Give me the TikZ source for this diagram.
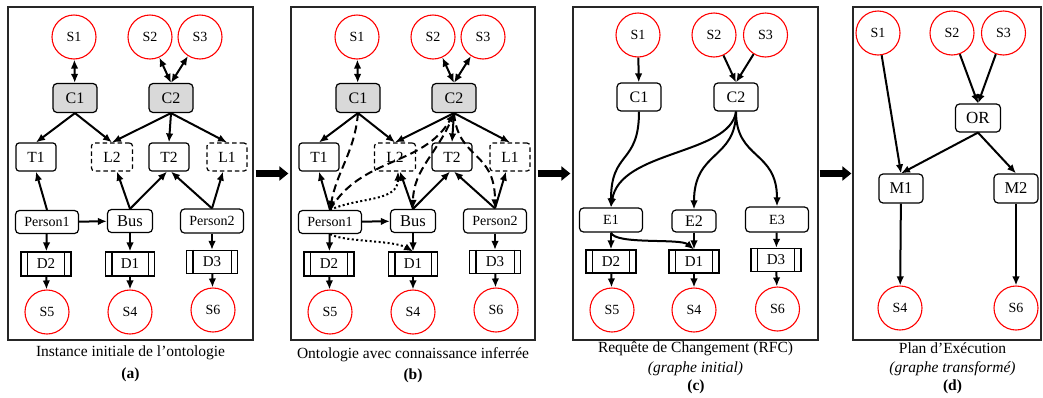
\documentclass[tikz,border=0pt]{standalone}
\usepackage{fontspec}
\setmainfont{Liberation Serif}
\usetikzlibrary{arrows.meta}
\tikzset{
  fs/.style={font=\fontsize{#1}{#1}\selectfont},
  st/.style={circle, draw=red, line width=1.1pt, minimum size=44pt, inner sep=0pt, fs=14},
  bx/.style={draw, rounded corners=4pt, line width=1.2pt, inner sep=0pt},
  cbox/.style={bx, fill=gray!30, minimum width=44pt, minimum height=29pt, fs=16},
  wbox/.style={bx, minimum width=44pt, minimum height=28pt, fs=16},
  tbox/.style={bx, rounded corners=3pt, minimum width=40pt, minimum height=28pt, fs=15.5},
  lbox/.style={tbox, dash pattern=on 4.5pt off 3pt},
  pbox/.style={bx, minimum width=63pt, minimum height=23pt, fs=14},
  busbox/.style={bx, minimum width=45pt, minimum height=23pt, fs=16.5},
  dbox/.style={draw, line width=1.2pt, minimum width=50pt, minimum height=24pt, inner sep=0pt, fs=15},
  ed/.style={line width=2pt, -{Latex[length=9pt,width=7.5pt]}},
  bed/.style={line width=2pt, {Latex[length=9pt,width=7.5pt]}-{Latex[length=9pt,width=7.5pt]}},
  dsh/.style={ed, dash pattern=on 8pt off 4.5pt},
  dotl/.style={ed, dash pattern=on 2pt off 2.5pt},
  frame/.style={draw=black!85, line width=1.3pt, inner sep=0pt},
  big/.style={line width=7pt, -{Triangle[length=9pt,width=14pt]}},
  capt/.style={fs=15.5, inner sep=0pt},
}
\newcommand\dl[1]{\draw[line width=1.2pt] ([xshift=7pt]#1.north west) -- ([xshift=7pt]#1.south west) ([xshift=-7pt]#1.north east) -- ([xshift=-7pt]#1.south east);}
\newcommand\ontograph[1]{%
  \node[st] (#1S1) at (74,-37) {S1};
  \node[st] (#1S2) at (150,-37) {S2};
  \node[st] (#1S3) at (200,-37) {S3};
  \node[cbox] (#1C1) at (75,-98) {C1};
  \node[cbox] (#1C2) at (171,-98) {C2};
  \node[tbox] (#1T1) at (36,-157) {T1};
  \node[lbox, minimum width=41pt] (#1L2) at (112,-157) {L2};
  \node[tbox] (#1T2) at (169,-157) {T2};
  \node[lbox] (#1L1) at (227,-157) {L1};
  \node[pbox] (#1P1) at (47,-222) {Person1};
  \node[busbox] (#1Bus) at (130,-221) {Bus};
  \node[pbox, minimum height=24pt] (#1P2) at (212,-221) {Person2};
  \node[dbox] (#1D2) at (46,-264) {D2};
  \node[dbox, minimum width=49pt] (#1D1) at (130,-264) {D1};
  \node[dbox, minimum width=51pt, minimum height=23pt] (#1D3) at (212,-262) {D3};
  \dl{#1D2}\dl{#1D1}\dl{#1D3}
  \node[st] (#1S5) at (47,-312) {S5};
  \node[st] (#1S4) at (130,-312) {S4};
  \node[st] (#1S6) at (213,-310) {S6};
  \draw[bed] (#1S1) -- (#1C1);
  \draw[bed] (#1S2) -- (#1C2.north);
  \draw[bed] (#1S3) -- (#1C2.north);
  \draw[ed] (#1C1.south) -- (#1T1.north);
  \draw[ed] (#1C1.south) -- (#1L2.north);
  \draw[ed] (#1C2.south) -- (#1L2.north);
  \draw[ed] (#1C2.south) -- (#1T2.north);
  \draw[ed] (#1C2.south) -- (#1L1.north);
  \draw[ed] (#1P1.north) -- (#1T1.south);
  \draw[ed] (#1Bus.north) -- ([xshift=5pt]#1L2.south);
  \draw[ed] (#1Bus.north) -- ([xshift=-2pt]#1T2.south);
  \draw[ed] (#1P2.north) -- ([xshift=2pt]#1T2.south);
  \draw[ed] (#1P2.north) -- ([xshift=-4pt]#1L1.south);
  \draw[ed] (#1P1) -- (#1Bus);
  \draw[ed] (#1P1) -- (#1D2);
  \draw[ed] (#1Bus) -- (#1D1);
  \draw[ed] (#1P2) -- (#1D3);
  \draw[ed] (#1D2) -- (#1S5);
  \draw[ed] (#1D1) -- (#1S4);
  \draw[ed] (#1D3) -- (#1S6);
}
\begin{document}
\begin{tikzpicture}[x=1pt,y=1pt]
\useasboundingbox (0,0) rectangle (1043,-397);
% frames
\node[frame, minimum width=245pt, minimum height=333pt] (Fa) at (130.5,-173.5) {};
\node[frame, minimum width=244pt, minimum height=333pt] (Fb) at (413,-173.5) {};
\node[frame, minimum width=245pt, minimum height=333pt] (Fc) at (695.5,-173.5) {};
\node[frame, minimum width=188pt, minimum height=333pt] (Fd) at (947,-173.5) {};
\draw[big] ([xshift=2pt]Fa.east) -- ([xshift=-2pt]Fb.west);
\draw[big] ([xshift=2pt]Fb.east) -- ([xshift=-2pt]Fc.west);
\draw[big] ([xshift=1pt]Fc.east) -- ([xshift=-1pt]Fd.west);
% panel a
\ontograph{a}
% panel b
\begin{scope}[shift={(283,0)}]
\ontograph{b}
\draw[dsh] (bC1.south) to[out=-95,in=80] (bP1.north);
\draw[dsh] (bP1.north) to[out=60,in=-120] (bC2.south);
\draw[dsh] (bC2.south) to[out=-110,in=90] (bBus.north);
\draw[dsh] (bC2.south) .. controls (175,-160) and (212,-150) .. (bP2.north);
\draw[dotl] (bP1.north) to[out=25,in=-90] ([xshift=3pt]bL2.south);
\draw[dotl] (bP1.south) .. controls (60,-242) and (110,-240) .. (bD1.north);
\end{scope}
% panel c
\node[st] (cS1) at (638,-35) {S1};
\node[st] (cS2) at (714,-35) {S2};
\node[st] (cS3) at (765.5,-35) {S3};
\node[wbox] (cC1) at (639,-97) {C1};
\node[wbox] (cC2) at (736,-97) {C2};
\node[bx, minimum width=63pt, minimum height=24pt, fs=14] (cE1) at (611,-220) {E1};
\node[bx, minimum width=44pt, minimum height=22pt, fs=16] (cE2) at (694,-221) {E2};
\node[bx, minimum width=63pt, minimum height=25pt, fs=14] (cE3) at (777,-219.5) {E3};
\node[dbox, minimum height=23pt] (cD2) at (611,-261.5) {D2};
\node[dbox, minimum height=23pt] (cD1) at (694,-261.5) {D1};
\node[dbox, minimum height=23pt] (cD3) at (776,-260) {D3};
\dl{cD2}\dl{cD1}\dl{cD3}
\node[st] (cS5) at (612,-310) {S5};
\node[st] (cS4) at (694,-310) {S4};
\node[st] (cS6) at (777.5,-309) {S6};
\draw[ed] (cS1) -- (cC1);
\draw[ed] (cS2) -- (cC2.north);
\draw[ed] (cS3) -- (cC2.north);
\draw[ed] (cC1.south) .. controls (639,-165) and (611,-150) .. (cE1.north);
\draw[ed] (cC2.south) .. controls (730,-155) and (620,-150) .. (cE1.north);
\draw[ed] (cC2.south) .. controls (736,-160) and (694,-150) .. (cE2.north);
\draw[ed] (cC2.south) .. controls (736,-160) and (777,-150) .. (cE3.north);
\draw[ed] (cE1) -- (cD2);
\draw[ed] (cE2) -- (cD1);
\draw[ed] (cE3) -- (cD3);
\draw[ed] (cE1.south) .. controls (615,-245) and (680,-238) .. (cD1.north);
\draw[ed] (cD2) -- (cS5);
\draw[ed] (cD1) -- (cS4);
\draw[ed] (cD3) -- (cS6);
% panel d
\node[st] (dS1) at (878,-33) {S1};
\node[st] (dS2) at (952,-33) {S2};
\node[st] (dS3) at (1003.5,-33) {S3};
\node[bx, minimum width=45pt, minimum height=28pt, fs=17] (dOR) at (978,-118) {OR};
\node[bx, minimum width=44pt, minimum height=29pt, fs=16.5] (dM1) at (901,-188.5) {M1};
\node[bx, minimum width=44pt, minimum height=29pt, fs=16.5] (dM2) at (1016,-188.5) {M2};
\node[st] (dS4) at (900,-308) {S4};
\node[st] (dS6) at (1016,-308) {S6};
\draw[ed] (dS1) -- (dM1.north);
\draw[ed] (dS2) -- (dOR.north);
\draw[ed] (dS3) -- (dOR.north);
\draw[ed] (dOR.south) -- (dM1.north);
\draw[ed] (dOR.south) -- (dM2.north);
\draw[ed] (dM1) -- (dS4);
\draw[ed] (dM2) -- (dS6);
% captions
\node[capt] (capA) at (130.5,-353) {Instance initiale de l’ontologie};
\node[capt] (labA) at (130.5,-374.5) {\textbf{(a)}};
\node[capt] (capB) at (413,-355) {Ontologie avec connaissance inferrée};
\node[capt] (labB) at (413,-375.5) {\textbf{(b)}};
\node[capt] (capC) at (695.5,-349) {Requête de Changement (RFC)};
\node[capt] (subC) at (695.5,-368.5) {\textit{(graphe initial)}};
\node[capt] (labC) at (696,-387) {\textbf{(c)}};
\node[capt] (capD) at (952.5,-348) {Plan d’Exécution};
\node[capt] (subD) at (952.5,-368.5) {\textit{(graphe transformé)}};
\node[capt] (labD) at (952.5,-387) {\textbf{(d)}};
\end{tikzpicture}
\end{document}
